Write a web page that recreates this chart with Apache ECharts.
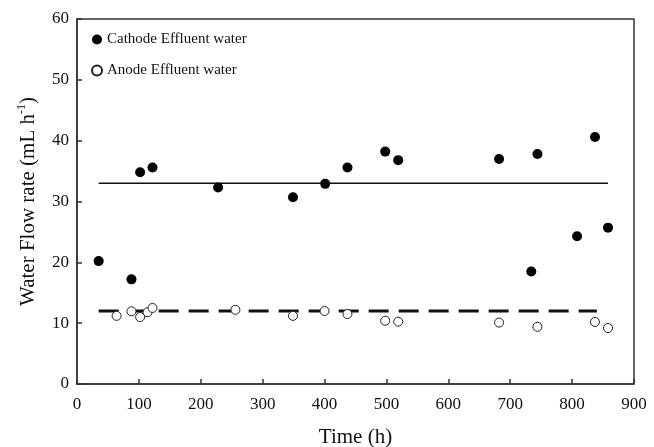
<!DOCTYPE html>
<html><head><meta charset="utf-8">
<script src="https://cdn.jsdelivr.net/npm/echarts@6/dist/echarts.min.js"></script>
<style>html,body{margin:0;padding:0;background:#fff}#c{width:654px;height:447px}</style>
</head><body><div id="c"></div>
<script>
const cathodeTime = [35, 88, 102, 122, 228, 349, 401, 437, 498, 519, 682, 744, 837, 734, 808, 858];
const cathodeFlow = [20.2, 17.2, 34.8, 35.6, 32.3, 30.7, 32.9, 35.6, 38.2, 36.8, 37.0, 37.8, 40.6, 18.5, 24.3, 25.7];
const anodeTime = [64, 88, 102, 114, 122, 256, 349, 400, 437, 498, 519, 682, 744, 837, 858];
const anodeFlow = [11.2, 11.95, 11.0, 11.8, 12.5, 12.2, 11.2, 12.0, 11.5, 10.4, 10.25, 10.1, 9.4, 10.2, 9.2];
const cathodeMeanLine = [[35, 33], [858, 33]];
const anodeMeanLine = [[35, 12], [840, 12]];
const xTicks = [0, 100, 200, 300, 400, 500, 600, 700, 800, 900];
const yTicks = [0, 10, 20, 30, 40, 50, 60];

const font = '"Liberation Serif", "Times New Roman", serif';
const zip = (a, b) => a.map((v, i) => [v, b[i]]);

const chart = echarts.init(document.getElementById('c'), null, {renderer: 'canvas'});
chart.setOption({
  animation: false,
  backgroundColor: '#fff',
  grid: {left: 77, right: 20, top: 19, bottom: 63, outerBoundsMode: 'none', containLabel: false,
         show: true, borderColor: '#333', borderWidth: 1.5, backgroundColor: 'transparent'},
  legend: {
    orient: 'vertical', left: 86, top: 27, itemGap: 16, itemWidth: 10, itemHeight: 10,
    data: ['Cathode Effluent water', 'Anode Effluent water'],
    textStyle: {fontFamily: font, fontSize: 15, color: '#111'}
  },
  xAxis: {
    type: 'value', min: xTicks[0], max: xTicks[xTicks.length - 1], interval: 100,
    name: 'Time (h)', nameLocation: 'middle', nameGap: 43,
    nameTextStyle: {fontFamily: font, fontSize: 21, color: '#111'},
    axisLine: {lineStyle: {color: '#333', width: 1.5}},
    axisTick: {inside: true, length: 5, lineStyle: {color: '#333', width: 1.5}},
    axisLabel: {fontFamily: font, fontSize: 17, color: '#111', margin: 12},
    splitLine: {show: false}
  },
  yAxis: {
    type: 'value', min: yTicks[0], max: yTicks[yTicks.length - 1], interval: 10,
    name: '{a|Water Flow rate (mL h}{s|-1}{a|)}', nameLocation: 'middle', nameGap: 37, nameRotate: 90,
    nameTextStyle: {
      fontFamily: font, fontSize: 21, color: '#111',
      rich: {
        a: {fontFamily: font, fontSize: 21, color: '#111', lineHeight: 24},
        s: {fontFamily: font, fontSize: 12, color: '#111', verticalAlign: 'top', lineHeight: 24, padding: [0, 0, 10, 0]}
      }
    },
    axisLine: {lineStyle: {color: '#333', width: 1.5}},
    axisTick: {inside: true, length: 5, lineStyle: {color: '#333', width: 1.5}},
    axisLabel: {fontFamily: font, fontSize: 17, color: '#111', margin: 8},
    splitLine: {show: false}
  },
  series: [
    {type: 'line', name: 'cathodeMean', data: cathodeMeanLine, symbol: 'none', z: 1,
     lineStyle: {color: '#111', width: 1.5}},
    {type: 'line', name: 'anodeMean', data: anodeMeanLine, symbol: 'none', z: 1,
     lineStyle: {color: '#111', width: 3, type: [20, 10]}},
    {type: 'scatter', name: 'Cathode Effluent water', data: zip(cathodeTime, cathodeFlow), symbol: 'circle', symbolSize: 10, z: 3,
     itemStyle: {color: '#000', opacity: 1}},
    {type: 'scatter', name: 'Anode Effluent water', data: zip(anodeTime, anodeFlow), symbol: 'circle', symbolSize: 9, z: 3,
     itemStyle: {color: '#fff', borderColor: '#222', borderWidth: 1, opacity: 1}}
  ]
});
</script></body></html>
